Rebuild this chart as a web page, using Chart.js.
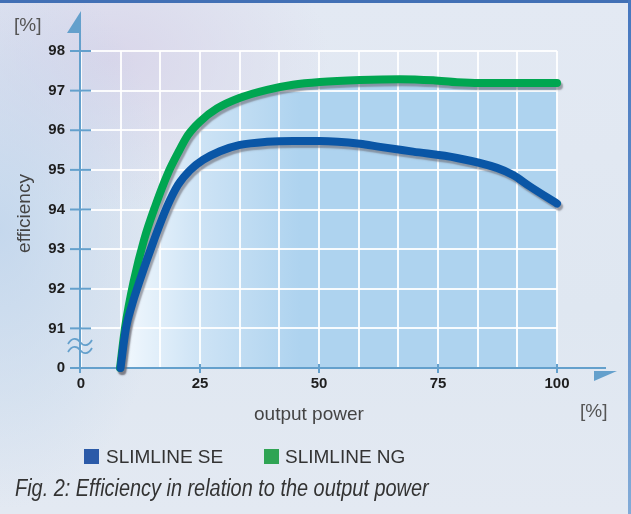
<!DOCTYPE html>
<html>
<head>
<meta charset="utf-8">
<script src="https://cdn.jsdelivr.net/npm/chart.js@4/dist/chart.umd.min.js"></script>
<style>
html,body{margin:0;padding:0;}
body{width:631px;height:514px;overflow:hidden;position:relative;font-family:"Liberation Sans",Arial,sans-serif;
background:
 radial-gradient(ellipse 170px 280px at 0px 230px, rgba(192,213,236,0.85), rgba(192,213,236,0) 100%),
 radial-gradient(ellipse 220px 150px at 110px 60px, rgba(216,212,233,0.9), rgba(216,212,233,0) 100%),
 linear-gradient(180deg,#e3e9f3 0%,#dfe7f1 60%,#e3e9f2 100%);}
#c{position:absolute;left:0;top:0;}
.t{position:absolute;white-space:nowrap;color:#3a3a3a;font-size:19px;line-height:19px;}
.sq{position:absolute;width:15px;height:15px;}
#topbar{position:absolute;left:0;top:0;width:631px;height:3px;background:#4270b5;}
#rightbar{position:absolute;left:628px;top:0;width:3px;height:514px;background:linear-gradient(180deg,#4677bf,#82abd8);}
#cap{left:15px;top:477px;font-size:23px;line-height:23px;font-style:italic;color:#333;transform:scaleX(0.865);transform-origin:0 0;}
</style>
</head>
<body>
<canvas id="c" width="631" height="514"></canvas>
<div id="topbar"></div>
<div id="rightbar"></div>
<div class="t" style="left:14px;top:15px;color:#555;">[%]</div>
<div class="t" style="left:580px;top:401px;color:#555;">[%]</div>
<div class="t" style="left:254px;top:404px;color:#444;">output power</div>
<div class="t" style="left:-27px;top:204px;width:100px;text-align:center;color:#444;transform:rotate(-90deg);">efficiency</div>
<div class="sq" style="left:84px;top:449px;background:#2b5aa8;"></div>
<div class="t" id="lg0" style="left:106px;top:447px;color:#333;"></div>
<div class="sq" style="left:264px;top:449px;background:#2fa454;"></div>
<div class="t" id="lg1" style="left:285px;top:447px;color:#333;"></div>
<div class="t" id="cap">Fig. 2: Efficiency in relation to the output power</div>
<script>
// ---- data ----
const seriesNames = ['SLIMLINE SE', 'SLIMLINE NG'];
const seX = [8.3, 9.45, 10.71, 12.39, 15.34, 18.07, 20.38, 22.9, 25.63, 29.2, 33.4, 39.08, 44.54, 50.21, 58.61, 62.82, 69.75, 78.99, 87.39, 90.76, 94.33, 100];
const seY = [90, 91.01, 91.59, 92.22, 93.23, 94.07, 94.62, 94.99, 95.25, 95.47, 95.63, 95.71, 95.73, 95.73, 95.66, 95.58, 95.46, 95.3, 95.05, 94.87, 94.58, 94.15];
const ngX = [8.2, 9.24, 11.13, 13.24, 15.55, 18.28, 20.38, 22.48, 25.0, 28.57, 33.4, 39.08, 44.54, 50.21, 58.61, 67.02, 74.0, 79.0, 83.8, 100];
const ngY = [90, 91.01, 92.22, 93.23, 94.07, 94.92, 95.43, 95.88, 96.22, 96.55, 96.82, 97.02, 97.15, 97.22, 97.27, 97.29, 97.26, 97.21, 97.19, 97.19];
const xTickValues = [0, 25, 50, 75, 100];
const xTickLabels = ['0', '25', '50', '75', '100'];
const xGridDivisions = 3;
const yTickValues = [90, 91, 92, 93, 94, 95, 96, 97, 98];
const yTickLabels = ['0', '91', '92', '93', '94', '95', '96', '97', '98'];

document.getElementById('lg0').textContent = seriesNames[0];
document.getElementById('lg1').textContent = seriesNames[1];

const FONT = '"Liberation Sans", Arial, sans-serif';
const AXIS = '#64a0cc';

const toPts = (xs, ys) => xs.map((x, i) => ({x: x, y: ys[i]}));

const shadowPlugin = {
  id: 'shadow',
  beforeDatasetDraw(chart) {
    const c = chart.ctx; c.save();
    c.shadowColor = 'rgba(105,105,115,0.6)';
    c.shadowOffsetX = 2; c.shadowOffsetY = 3; c.shadowBlur = 1.5;
  },
  afterDatasetDraw(chart) { chart.ctx.restore(); }
};

const axesPlugin = {
  id: 'axes',
  beforeDatasetsDraw(chart) {
    const {ctx, scales: {x, y}} = chart;
    const x0 = x.getPixelForValue(xTickValues[0]) - 1;
    const y0 = y.getPixelForValue(yTickValues[0]);
    ctx.save();
    ctx.strokeStyle = AXIS; ctx.fillStyle = AXIS; ctx.lineWidth = 2;
    ctx.beginPath(); ctx.moveTo(x0, 30); ctx.lineTo(x0, y0 + 5); ctx.stroke();
    ctx.beginPath(); ctx.moveTo(x0 - 1, y0); ctx.lineTo(606, y0); ctx.stroke();
    yTickValues.forEach(v => {
      const py = y.getPixelForValue(v);
      ctx.beginPath(); ctx.moveTo(x0 - 10, py); ctx.lineTo(x0 + 11, py); ctx.stroke();
    });
    xTickValues.slice(1).forEach(v => {
      const px = x.getPixelForValue(v);
      ctx.beginPath(); ctx.moveTo(px, y0 - 4); ctx.lineTo(px, y0 + 5); ctx.stroke();
    });
    ctx.beginPath(); ctx.moveTo(x0 + 1, 11); ctx.lineTo(x0 - 13, 33); ctx.lineTo(x0 + 1, 33); ctx.closePath(); ctx.fill();
    ctx.beginPath(); ctx.moveTo(617, y0 + 3); ctx.lineTo(594, y0 + 3); ctx.lineTo(594, y0 + 13); ctx.closePath(); ctx.fill();
    // axis break squiggle
    ctx.lineWidth = 1.8;
    [y0 - 26, y0 - 18].forEach(yc => {
      ctx.beginPath();
      ctx.moveTo(x0 - 12, yc + 2);
      ctx.bezierCurveTo(x0 - 8, yc - 5, x0 - 3, yc - 4, x0, yc);
      ctx.bezierCurveTo(x0 + 3, yc + 4, x0 + 8, yc + 5, x0 + 12, yc - 2);
      ctx.stroke();
    });
    ctx.restore();
  }
};

new Chart(document.getElementById('c'), {
  type: 'line',
  data: {
    datasets: [
      {
        label: seriesNames[0],
        data: toPts(seX, seY),
        borderColor: '#0a56a6',
        borderWidth: 8,
        borderCapStyle: 'round',
        borderJoinStyle: 'round',
        pointRadius: 0,
        cubicInterpolationMode: 'monotone',
        fill: false,
        clip: false
      },
      {
        label: seriesNames[1],
        data: toPts(ngX, ngY),
        borderColor: '#00a651',
        borderWidth: 8,
        borderCapStyle: 'round',
        borderJoinStyle: 'round',
        pointRadius: 0,
        cubicInterpolationMode: 'monotone',
        fill: 'start',
        clip: false,
        backgroundColor: (context) => {
          const ch = context.chart;
          if (!ch.chartArea || !ch.scales.x) return 'rgba(0,0,0,0)';
          const sx = ch.scales.x;
          const g = ch.ctx.createLinearGradient(sx.getPixelForValue(8), 0, sx.getPixelForValue(46), 0);
          g.addColorStop(0, '#f3f9fe');
          g.addColorStop(0.45, '#cde3f5');
          g.addColorStop(1, '#aed3ef');
          return g;
        }
      }
    ]
  },
  options: {
    responsive: false,
    animation: false,
    devicePixelRatio: 1,
    layout: {padding: {left: 0, right: 74, top: 51, bottom: 116}},
    plugins: {
      legend: {display: false},
      tooltip: {enabled: false},
      filler: {drawTime: 'beforeDraw'}
    },
    scales: {
      x: {
        type: 'linear', min: 0, max: 100,
        afterFit: s => { s.height = 30; },
        afterBuildTicks: s => {
          const t = [];
          for (let i = 0; i < xTickValues.length - 1; i++) {
            const a = xTickValues[i], b = xTickValues[i + 1];
            for (let j = 0; j < xGridDivisions; j++) t.push({value: a + (b - a) * j / xGridDivisions});
          }
          t.push({value: xTickValues[xTickValues.length - 1]});
          s.ticks = t;
        },
        ticks: {
          autoSkip: false, maxRotation: 0, minRotation: 0, padding: 7,
          color: '#1e1e1e', font: {family: FONT, size: 15, weight: 'bold'},
          callback: (v, i) => (i % xGridDivisions === 0 ? xTickLabels[i / xGridDivisions] : '')
        },
        grid: {color: 'rgba(255,255,255,0.9)', lineWidth: 2, drawTicks: false},
        border: {display: false}
      },
      y: {
        type: 'linear', min: 90, max: 98,
        afterFit: s => { s.width = 81; },
        afterBuildTicks: s => { s.ticks = yTickValues.map(v => ({value: v})); },
        ticks: {
          autoSkip: false, padding: 16,
          color: '#1e1e1e', font: {family: FONT, size: 15, weight: 'bold'},
          callback: (v, i) => yTickLabels[i]
        },
        grid: {color: 'rgba(255,255,255,0.9)', lineWidth: 2, drawTicks: false},
        border: {display: false}
      }
    }
  },
  plugins: [shadowPlugin, axesPlugin]
});
</script>
</body>
</html>
